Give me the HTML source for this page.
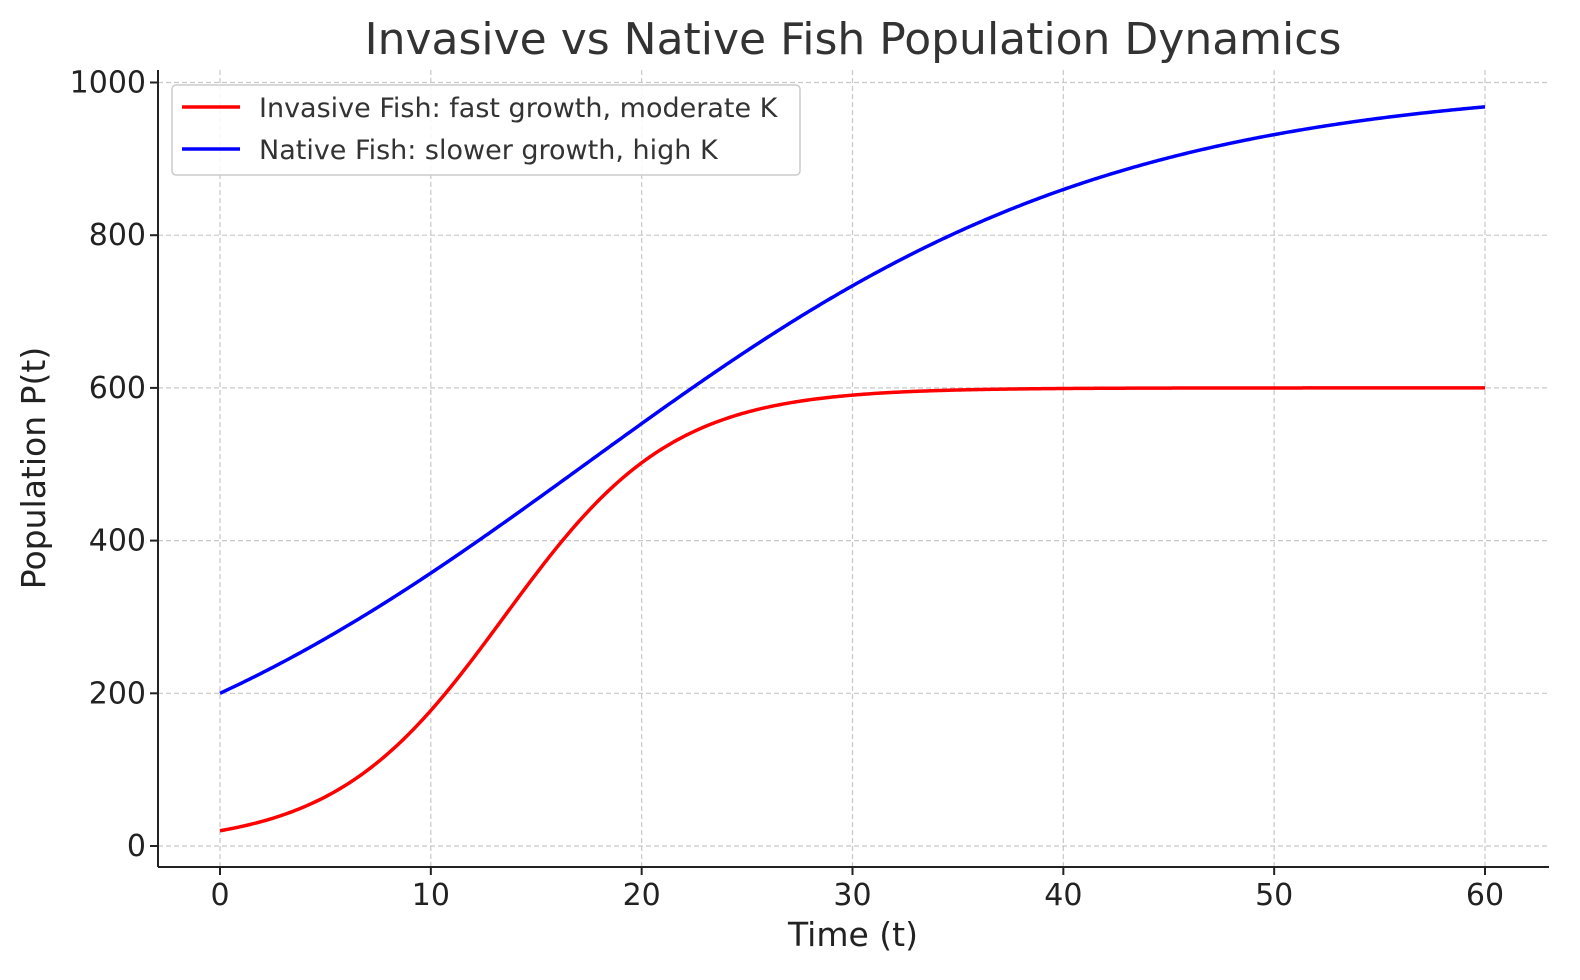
<!DOCTYPE html>
<html><head><meta charset="utf-8"><style>
html,body{margin:0;padding:0;background:#fff;}
svg{display:block;font-family:"DejaVu Sans","Liberation Sans",sans-serif;}
</style></head><body>
<svg id="s" width="1580" height="980" viewBox="0 0 1580 980" xmlns="http://www.w3.org/2000/svg">
<rect width="1580" height="980" fill="#fff"/>
<g id="grid" stroke="#c8c8c8" stroke-width="1.2" stroke-dasharray="5,3"></g>
<g id="curves" fill="none" stroke-width="3.5"></g>
<line x1="158" y1="867" x2="1549" y2="867" stroke="#222" stroke-width="2"/>
<line x1="158" y1="70" x2="158" y2="867" stroke="#222" stroke-width="2"/>
<g id="ticks" stroke="#222" stroke-width="2"></g>
<g id="labels" font-size="30" fill="#222"></g>
<text x="853" y="54" font-size="44" text-anchor="middle" fill="#333">Invasive vs Native Fish Population Dynamics</text>
<text x="853" y="946" font-size="33" text-anchor="middle" fill="#222">Time (t)</text>
<text transform="translate(45,468) rotate(-90)" font-size="33" text-anchor="middle" fill="#222">Population P(t)</text>
<rect x="172" y="85" width="628" height="90" rx="4" fill="#fff" fill-opacity="0.85" stroke="#ccc" stroke-width="1.5"/>
<line x1="182" y1="107" x2="240" y2="107" stroke="#ff0000" stroke-width="3.5"/>
<line x1="182" y1="149" x2="240" y2="149" stroke="#0000ff" stroke-width="3.5"/>
<text x="259" y="117" font-size="27" fill="#333">Invasive Fish: fast growth, moderate K</text>
<text x="259" y="159" font-size="27" fill="#333">Native Fish: slower growth, high K</text>
</svg>
<script>
var NS="http://www.w3.org/2000/svg";
function X(t){return 220+t*(1265/60);}
function Y(p){return 846-p*0.7635;}
function el(g,n,a,txt){var e=document.createElementNS(NS,n);for(var k in a)e.setAttribute(k,a[k]);if(txt!=null)e.textContent=txt;document.getElementById(g).appendChild(e);}
for(var t=0;t<=60;t+=10){var x=X(t);el("grid","line",{x1:x,y1:70,x2:x,y2:867});el("ticks","line",{x1:x,y1:867,x2:x,y2:875});el("labels","text",{x:x,y:905,"text-anchor":"middle"},String(t));}
for(var p=0;p<=1000;p+=200){var y=Y(p);el("grid","line",{x1:158,y1:y,x2:1549,y2:y});el("ticks","line",{x1:150,y1:y,x2:158,y2:y});el("labels","text",{x:146,y:y+10,"text-anchor":"end"},String(p));}
function pts(f){var s=[];for(var i=0;i<=600;i++){var t=i/10;s.push(X(t).toFixed(2)+","+Y(f(t)).toFixed(2));}return s.join(" ");}
el("curves","polyline",{points:pts(function(t){return 600/(1+29*Math.exp(-0.25*t));}),stroke:"#ff0000"});
el("curves","polyline",{points:pts(function(t){return 1000/(1+4*Math.exp(-0.08*t));}),stroke:"#0000ff"});
</script>
</body></html>
